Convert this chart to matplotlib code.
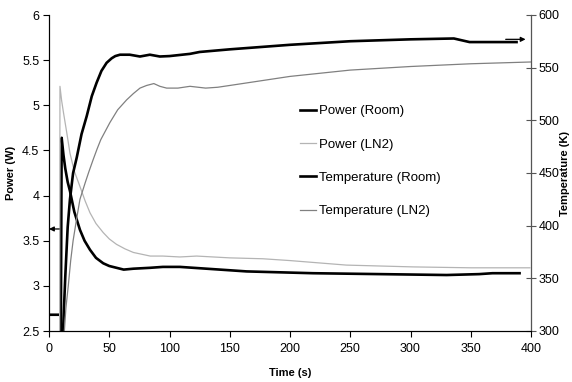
import matplotlib
matplotlib.use('Agg')
import matplotlib.pyplot as plt

plt.rcParams['font.family'] = ['Liberation Sans', 'DejaVu Sans']

# Power (Room) - left axis, W
power_room_t = [0, 9.5, 9.8, 10.5, 12, 13.5, 15.5, 17.4, 21, 25.7, 29.5, 34, 39, 45, 50,
                56, 62, 70, 84, 94.5, 108.6, 164, 219, 274.5, 330, 357, 368, 390.5]
power_room = [2.68, 2.68, 2.4, 4.64, 4.45, 4.30, 4.15, 4.05, 3.82, 3.62, 3.50, 3.40, 3.31,
              3.25, 3.22, 3.20, 3.18, 3.19, 3.20, 3.21, 3.21, 3.16, 3.14, 3.13, 3.12, 3.13,
              3.14, 3.14]

# Power (LN2) - left axis, W
power_ln2_t = [8.8, 9.1, 10.5, 12, 14.7, 17.4, 21, 25.7, 30, 34, 39, 45, 50, 56, 63, 70,
               77, 84, 94.5, 108.6, 122.5, 150, 177.6, 200, 246.8, 302, 350, 399]
power_ln2 = [2.4, 5.21, 5.05, 4.92, 4.70, 4.47, 4.27, 4.10, 3.94, 3.81, 3.69, 3.59, 3.52,
             3.46, 3.41, 3.37, 3.35, 3.33, 3.33, 3.32, 3.33, 3.31, 3.30, 3.28, 3.23, 3.21,
             3.20, 3.20]

# Temperature (Room) - right axis, K
temp_room_t = [11.5, 13.5, 15.5, 17.4, 20, 23, 27, 31.3, 35.5, 39.5, 43.5, 47.8, 52, 55,
               58.9, 67, 75.5, 83.7, 92, 100, 117, 125, 150, 200, 250, 300, 336, 349, 360,
               388]
temp_room = [295.7, 351.4, 398.6, 425.1, 450.0, 464.6, 486.9, 504.0, 522.9, 535.7, 546.9,
             554.6, 558.9, 561.0, 562.3, 562.3, 560.6, 562.3, 560.6, 561.0, 563.1, 564.9,
             567.4, 571.7, 575.1, 576.9, 577.7, 574.3, 574.3, 574.3]

# Temperature (LN2) - right axis, K
temp_ln2_t = [12.5, 14, 16, 18, 20, 23, 25.7, 30, 33, 36.7, 40, 43, 47, 50.6, 57, 64.4,
              70, 75.5, 81, 87, 92, 97.6, 107, 117, 130, 140, 150, 175, 200, 250, 300,
              350, 400]
temp_ln2 = [295.7, 321.4, 342.9, 366.9, 385.7, 407.1, 425.1, 440.6, 450.9, 462.9, 473.1,
            481.7, 490.3, 498.0, 510.0, 519.4, 525.4, 530.6, 533.1, 534.9, 532.3, 530.6,
            530.6, 532.3, 530.6, 531.4, 533.1, 537.4, 541.7, 547.7, 551.1, 553.7, 555.4]

fig = plt.figure(figsize=(5.72, 3.82), dpi=100)
ax = fig.add_axes([49 / 572, 1 - 331 / 382, 482 / 572, 316 / 382])
ax2 = ax.twinx()

l1, = ax.plot(power_room_t, power_room, color='black', lw=1.9, label='Power (Room)')
l2, = ax.plot(power_ln2_t, power_ln2, color='#b4b4b4', lw=0.9, label='Power (LN2)')
l3, = ax2.plot(temp_room_t, temp_room, color='black', lw=1.9, label='Temperature (Room)')
l4, = ax2.plot(temp_ln2_t, temp_ln2, color='#808080', lw=0.9, label='Temperature (LN2)')

ax.set_xlim(0, 400)
ax.set_ylim(2.5, 6)
ax2.set_ylim(300, 600)
ax.set_xticks(range(0, 401, 50))
ax.set_yticks([2.5, 3, 3.5, 4, 4.5, 5, 5.5, 6])
ax.set_yticklabels(['2.5', '3', '3.5', '4', '4.5', '5', '5.5', '6'])
ax2.set_yticks(range(300, 601, 50))

for a in (ax, ax2):
    a.spines['top'].set_visible(False)
ax2.spines['right'].set_color('#555555')
ax.tick_params(axis='both', direction='out', length=4, width=0.8, labelsize=9, pad=3)
ax.tick_params(axis='x', pad=5)
ax2.tick_params(axis='y', direction='inout', length=7, width=0.8, labelsize=9,
                color='#555555', pad=2)

ax.set_xlabel('Time (s)', fontsize=8, fontweight='bold', labelpad=9)
ax.set_ylabel('Power (W)', fontsize=8, fontweight='bold', labelpad=4)
ax2.set_ylabel('Temperature (K)', fontsize=8, fontweight='bold', labelpad=0)

# arrows pointing to the matching axis
arrow = dict(arrowstyle='-|>', color='black', lw=0.9, mutation_scale=7, shrinkA=0, shrinkB=0)
ax.annotate('', xy=(0, 3.63), xytext=(8.5, 3.63), arrowprops=arrow)
ax2.annotate('', xy=(395.5, 576.9), xytext=(379, 576.9), arrowprops=arrow)

ax2.legend(handles=[l1, l2, l3, l4], loc='upper left', bbox_to_anchor=(0.521, 0.715),
           frameon=False, fontsize=9.5, handlelength=1.2, handletextpad=0.2,
           labelspacing=1.6, borderpad=0, borderaxespad=0)

fig.savefig('out.png', dpi=100)
